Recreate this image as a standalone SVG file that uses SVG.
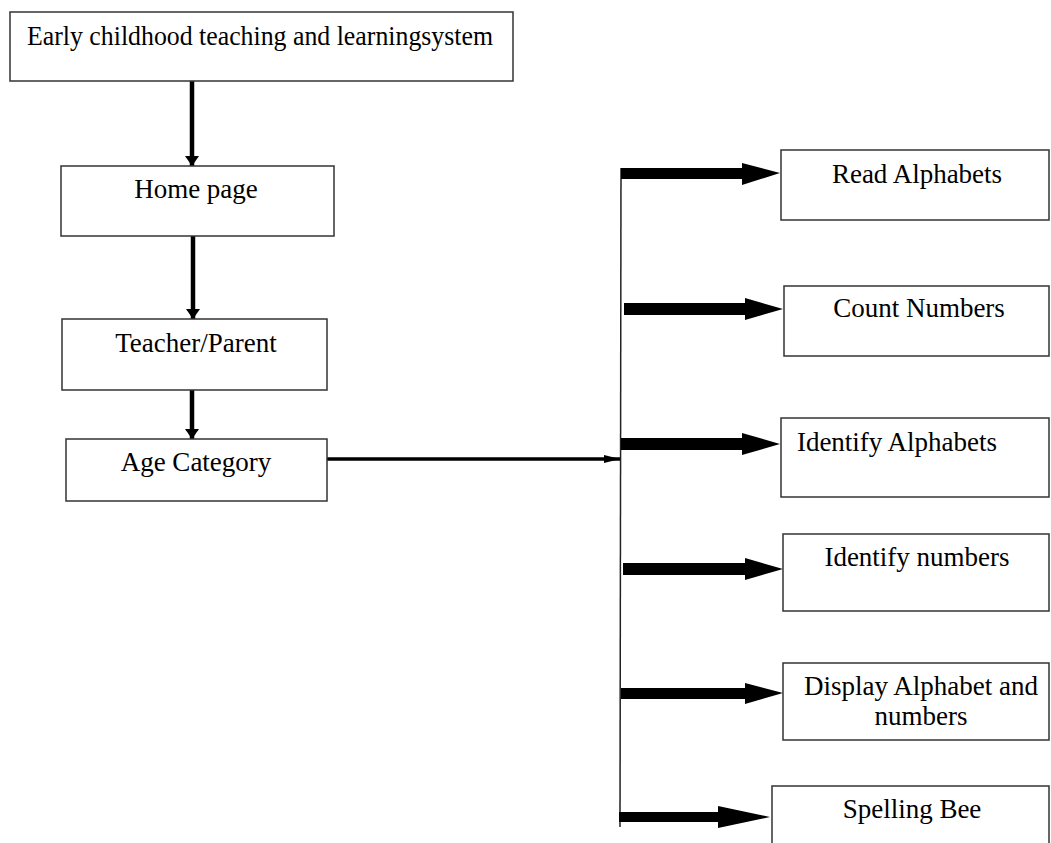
<svg xmlns="http://www.w3.org/2000/svg" width="1051" height="843" viewBox="0 0 1051 843">
<style>
.box{fill:#fff;stroke:#333;stroke-width:1.5}
.t{font-family:"Liberation Serif","Times New Roman",serif;font-size:27px;fill:#000;text-anchor:middle}
.thin{stroke:#222;stroke-width:1.5;fill:none}
.v{stroke:#000;stroke-width:4.5;fill:none}
.blk{fill:#000}
</style>
<defs>
<marker id="ah" markerWidth="10" markerHeight="14" refX="10" refY="7" orient="auto" markerUnits="userSpaceOnUse">
<path d="M0,0 L10,7 L0,14 Z" fill="#000"/>
</marker>
<marker id="ahs" markerWidth="16" markerHeight="8" refX="16" refY="4" orient="auto" markerUnits="userSpaceOnUse">
<path d="M0,0 L16,4 L0,8 Z" fill="#000"/>
</marker>
</defs>
<rect width="1051" height="843" fill="#fff"/>
<g id="connectors">
<line class="v" x1="192" y1="81" x2="192" y2="166" marker-end="url(#ah)"/>
<line class="v" x1="193" y1="236" x2="193" y2="319" marker-end="url(#ah)"/>
<line class="v" x1="192" y1="390" x2="192" y2="439" marker-end="url(#ah)"/>
<line x1="327" y1="459" x2="620" y2="459" stroke="#000" stroke-width="3.5" marker-end="url(#ahs)"/>
<line class="thin" x1="621" y1="168" x2="620" y2="827"/>
<polygon class="blk" points="621,168 742,168 742,163 780,173 742,185 742,179 621,179"/>
<polygon class="blk" points="624,303 745,303 745,298 783,309 745,320 745,315 624,315"/>
<polygon class="blk" points="621,438 742,438 742,433 780,444 742,455 742,450 621,450"/>
<polygon class="blk" points="623,563 745,563 745,558 783,569 745,580 745,575 623,575"/>
<polygon class="blk" points="621,688 745,688 745,683 783,693 745,704 745,699 621,699"/>
<polygon class="blk" points="619,812 718,812 718,806 770,817 718,828 718,822 619,822"/>
</g>
<g id="n-top">
<rect class="box" x="10" y="12" width="503" height="69"/>
<text class="t" x="260" y="45" textLength="466" lengthAdjust="spacingAndGlyphs">Early childhood teaching and learningsystem</text>
</g>
<g id="n-home">
<rect class="box" x="61" y="166" width="273" height="70"/>
<text class="t" x="196" y="198">Home page</text>
</g>
<g id="n-teacher">
<rect class="box" x="62" y="319" width="265" height="71"/>
<text class="t" x="196" y="352">Teacher/Parent</text>
</g>
<g id="n-age">
<rect class="box" x="66" y="439" width="261" height="62"/>
<text class="t" x="196" y="471">Age Category</text>
</g>
<g id="n-read">
<rect class="box" x="781" y="150" width="268" height="70"/>
<text class="t" x="917" y="183">Read Alphabets</text>
</g>
<g id="n-count">
<rect class="box" x="784" y="286" width="265" height="70"/>
<text class="t" x="919" y="317">Count Numbers</text>
</g>
<g id="n-idalpha">
<rect class="box" x="781" y="418" width="268" height="79"/>
<text class="t" x="897" y="451">Identify Alphabets</text>
</g>
<g id="n-idnum">
<rect class="box" x="783" y="534" width="266" height="77"/>
<text class="t" x="917" y="566">Identify numbers</text>
</g>
<g id="n-display">
<rect class="box" x="783" y="663" width="266" height="77"/>
<text class="t" x="921" y="695">Display Alphabet and</text>
<text class="t" x="921" y="725">numbers</text>
</g>
<g id="n-spelling">
<rect class="box" x="772" y="786" width="277" height="80"/>
<text class="t" x="912" y="818">Spelling Bee</text>
</g>
</svg>
